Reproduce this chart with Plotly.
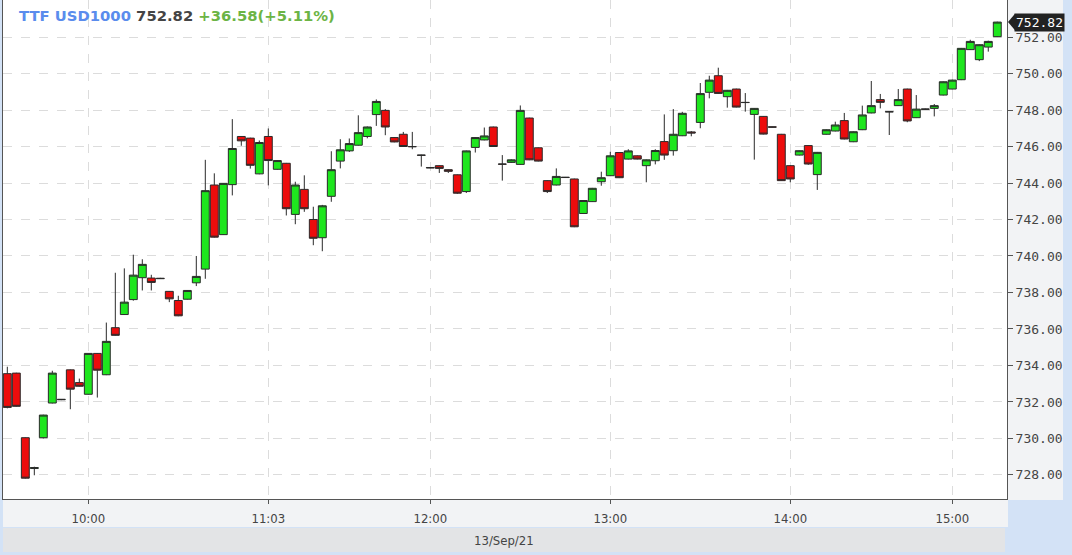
import plotly.graph_objects as go

# ---- data (3-minute bars) ----
bar_index = list(range(111))
open_ = [733.55, 733.58, 730.04, 728.35, 730.04, 731.94, 732.12, 733.76, 733.06, 732.42,
         734.66, 733.49, 736.07, 736.79, 737.61, 738.81, 738.79, 738.78, 738.06, 737.56,
         737.63, 738.53, 739.28, 743.89, 741.17, 743.91, 746.55, 746.46, 744.50, 746.55,
         744.75, 745.08, 742.28, 743.65, 742.00, 741.00, 743.27, 745.20, 745.76, 746.07,
         746.55, 747.75, 747.98, 746.49, 746.67, 746.00, 745.53, 744.85, 744.95, 744.73,
         744.45, 743.53, 745.95, 746.36, 747.07, 745.04, 745.13, 745.02, 747.56, 745.93,
         744.13, 743.89, 744.32, 744.22, 742.33, 742.98, 744.07, 744.40, 745.67, 745.31,
         745.49, 744.95, 745.22, 746.27, 745.77, 746.59, 746.80, 747.32, 748.97, 749.88,
         748.73, 749.15, 748.42, 747.76, 747.65, 747.08, 746.67, 744.95, 745.53, 746.05,
         744.46, 746.67, 746.85, 747.42, 746.26, 746.92, 747.84, 748.57, 747.91, 748.24,
         749.15, 747.58, 748.06, 748.09, 748.82, 749.15, 749.66, 751.31, 750.76, 751.45,
         752.02]
high = [733.93, 733.60, 730.06, 728.45, 731.30, 733.71, 732.15, 733.78, 733.28, 734.66,
        734.68, 736.35, 739.08, 739.32, 740.07, 739.82, 738.97, 738.80, 738.08, 737.82,
        738.13, 740.00, 745.27, 744.53, 744.00, 747.50, 746.57, 746.48, 746.33, 746.99,
        745.25, 745.10, 744.07, 744.42, 742.70, 742.80, 745.74, 746.40, 746.44, 747.71,
        747.10, 748.58, 748.05, 746.52, 746.80, 746.80, 745.55, 744.87, 744.97, 744.75,
        744.47, 745.78, 746.51, 747.04, 747.09, 745.53, 745.30, 748.25, 747.58, 745.95,
        744.15, 744.80, 744.33, 744.24, 743.06, 743.73, 744.62, 745.71, 745.69, 745.85,
        745.51, 745.29, 745.85, 747.76, 748.05, 747.90, 746.85, 749.48, 749.88, 750.32,
        749.10, 749.17, 748.93, 748.11, 747.67, 747.09, 746.69, 744.97, 745.79, 746.07,
        745.70, 746.94, 747.36, 747.84, 746.83, 748.24, 749.59, 748.88, 747.93, 749.15,
        749.17, 748.82, 748.08, 748.33, 749.57, 749.66, 751.40, 751.85, 751.60, 751.80,
        752.84]
low = [731.65, 731.74, 727.80, 727.98, 730.00, 731.92, 732.10, 731.60, 732.84, 732.40,
       732.24, 733.47, 735.63, 736.77, 737.55, 738.11, 738.11, 738.75, 737.47, 736.70,
       737.61, 738.35, 738.75, 741.01, 741.15, 743.32, 746.04, 744.79, 744.48, 743.87,
       744.73, 742.22, 741.74, 742.42, 740.59, 740.26, 742.97, 744.80, 745.70, 746.05,
       746.45, 747.13, 746.62, 746.23, 745.98, 745.85, 744.90, 744.81, 744.55, 744.55,
       743.40, 743.45, 745.67, 746.34, 745.98, 744.13, 745.10, 745.00, 745.25, 745.18,
       743.45, 743.87, 744.29, 741.58, 742.31, 742.96, 743.85, 744.38, 744.27, 745.29,
       745.29, 744.04, 745.02, 745.27, 745.50, 746.57, 746.56, 747.00, 748.64, 748.89,
       748.13, 748.14, 747.91, 745.28, 746.66, 747.05, 744.11, 744.04, 745.51, 745.00,
       743.62, 746.65, 746.83, 746.39, 746.24, 746.90, 747.82, 748.09, 746.63, 748.22,
       747.33, 747.56, 748.02, 747.65, 748.80, 749.13, 749.64, 751.29, 750.68, 751.20,
       752.00]
close = [731.70, 731.76, 727.82, 728.40, 731.28, 733.58, 732.14, 732.70, 732.86, 734.66,
         733.74, 735.32, 735.65, 737.47, 738.95, 739.54, 738.55, 738.76, 737.65, 736.72,
         738.11, 738.88, 743.58, 741.03, 743.98, 745.89, 746.31, 744.97, 746.22, 745.23,
         745.23, 742.59, 743.89, 742.59, 740.97, 742.75, 744.73, 745.82, 746.16, 746.76,
         747.07, 748.47, 747.07, 746.25, 746.00, 745.99, 745.52, 744.83, 744.80, 744.64,
         743.44, 745.76, 746.49, 746.58, 746.00, 745.03, 745.27, 747.98, 745.27, 745.20,
         743.53, 744.36, 744.30, 741.60, 743.04, 743.71, 744.29, 745.49, 744.29, 745.76,
         745.31, 745.27, 745.78, 745.53, 746.67, 747.82, 746.74, 748.90, 749.64, 748.91,
         749.08, 748.16, 748.41, 748.09, 746.68, 747.06, 744.13, 744.22, 745.77, 745.04,
         745.68, 746.92, 747.18, 746.41, 746.81, 747.73, 748.24, 748.42, 747.90, 748.57,
         747.40, 748.05, 748.04, 748.24, 749.55, 749.64, 751.38, 751.76, 751.58, 751.76,
         752.82]

tick_positions = [9, 29, 47, 67, 87, 105]
tick_labels = ["10:00", "11:03", "12:00", "13:00", "14:00", "15:00"]
y_ticks = [728, 730, 732, 734, 736, 738, 740, 742, 744, 746, 748, 750, 752]

symbol = "TTF USD1000"
last_price = "752.82"
change_text = "+36.58(+5.11%)"
date_label = "13/Sep/21"

# ---- geometry helpers (pixels -> paper) ----
W, H = 1072, 555
ML, MR, MT, MB = 3, 65, 0, 56
PW, PH = W - ML - MR, H - MT - MB


def px(x):
    return (x - ML) / PW


def py(y):
    return (H - MB - y) / PH


GREEN = "#1ee61e"
RED = "#ec0c0c"
EDGE = "#2a2a2a"
LIGHT = "#f2f3f5"
BLUE = "#d3e2f6"
DATE_BG = "#e3e4e6"
COND = "DejaVu Sans Condensed, Liberation Sans Narrow, DejaVu Sans"

fig = go.Figure(go.Candlestick(
    x=bar_index, open=open_, high=high, low=low, close=close,
    increasing=dict(fillcolor=GREEN, line=dict(color=EDGE, width=1)),
    decreasing=dict(fillcolor=RED, line=dict(color=EDGE, width=1)),
    whiskerwidth=0, hoverinfo="skip", showlegend=False,
))

shapes = [
    dict(type="rect", xref="paper", yref="paper", x0=px(1008), x1=px(1063), y0=py(500), y1=py(0),
         fillcolor=LIGHT, line_width=0, layer="below"),
    dict(type="rect", xref="paper", yref="paper", x0=px(3), x1=px(1008), y0=py(527), y1=py(499),
         fillcolor=LIGHT, line_width=0, layer="below"),
    dict(type="rect", xref="paper", yref="paper", x0=px(3), x1=px(1005), y0=py(552), y1=py(528),
         fillcolor=DATE_BG, line_width=0, layer="below"),
    # price tag arrow
    dict(type="path", xref="paper", yref="y",
         path=f"M {px(1008)} {float(last_price)} L {px(1015)} {float(last_price) + 0.45} "
              f"L {px(1015)} {float(last_price) - 0.45} Z",
         fillcolor="#222222", line_width=0, layer="above"),
]

annotations = [
    dict(xref="paper", yref="paper", x=px(17), y=py(15), xanchor="left", yanchor="middle",
         showarrow=False,
         text=(f"<b><span style='color:#5a8ced'>{symbol}</span> "
               f"<span style='color:#444444'>{last_price}</span> "
               f"<span style='color:#6cb445'>{change_text}</span></b>"),
         font=dict(family="DejaVu Sans", size=14.8)),
    dict(xref="paper", yref="y", x=px(1014), y=float(last_price), xanchor="left", yanchor="middle",
         showarrow=False, text=last_price, bgcolor="#222222", borderpad=1,
         font=dict(family="DejaVu Sans Mono", size=13, color="#ffffff")),
    dict(xref="paper", yref="paper", x=px(504), y=py(540), xanchor="center", yanchor="middle",
         showarrow=False, text=date_label,
         font=dict(family=COND, size=13, color="#444444")),
]

fig.update_layout(
    width=W, height=H,
    margin=dict(l=ML, r=MR, t=MT, b=MB, pad=0),
    paper_bgcolor=BLUE, plot_bgcolor="#ffffff",
    boxgap=0.12, boxgroupgap=0,
    shapes=shapes, annotations=annotations,
    xaxis=dict(
        range=[-0.48, 111.08], rangeslider=dict(visible=False),
        tickmode="array", tickvals=tick_positions, ticktext=tick_labels,
        ticks="outside", ticklen=4, tickcolor="#555555", ticklabelstandoff=3,
        showgrid=True, gridcolor="#dcdcdc", griddash="dash", gridwidth=1,
        showline=True, linecolor="#555555", linewidth=1, mirror=True,
        tickfont=dict(family=COND, size=13, color="#444444"),
        zeroline=False, fixedrange=True,
    ),
    yaxis=dict(
        side="right", range=[726.68, 754.03],
        tickmode="array", tickvals=y_ticks, tickformat=".2f",
        ticks="outside", ticklen=5, tickcolor="#555555",
        showgrid=True, gridcolor="#dcdcdc", griddash="dash", gridwidth=1,
        showline=True, linecolor="#555555", linewidth=1, mirror=True,
        tickfont=dict(family="DejaVu Sans Mono", size=13, color="#444444"),
        zeroline=False, fixedrange=True,
    ),
)

fig.write_html("out.html", config={"displayModeBar": False},
               post_script="document.body.style.margin='0';")
